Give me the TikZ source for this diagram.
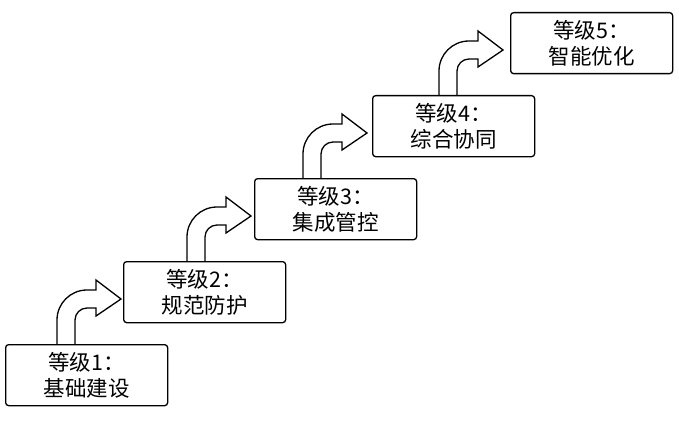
\documentclass[tikz,border=0pt]{standalone}
\usepackage{fontspec}
\setmainfont{Noto Sans CJK SC}
\usetikzlibrary{calc}
\tikzset{
  levelbox/.style={draw=black, line width=1.3pt, rounded corners=3pt, fill=white,
    minimum width=162pt, minimum height=61pt, anchor=north west, inner sep=0pt,
    align=center, font=\fontsize{21.5pt}{26pt}\selectfont},
  arrowshape/.style={draw=black, line width=1.3pt, fill=white, line join=miter},
  bentarr/.pic={
    \path[arrowshape] (0,0) -- (0,-24) .. controls (0,-40.6) and (13.4,-54) .. (30,-54)
      -- (39,-54) -- (39,-64) -- (64,-45) -- (39,-28) -- (39,-36) -- (30,-36)
      .. controls (23.4,-36) and (18,-30.6) .. (18,-24) -- (18,0);
  }
}
\begin{document}
\begin{tikzpicture}[x=1pt,y=-1pt]
\useasboundingbox (0,0) rectangle (679,425);
\coordinate (p1) at (5,344);
\coordinate (p2) at (123,261);
\coordinate (p3) at (254,178);
\coordinate (p4) at (372,95);
\coordinate (p5) at (510,12);
% arrows
\pic at ($(p1 -| p2)+(-66,0)$) {bentarr};
\pic at ($(p2 -| p3)+(-67,0)$) {bentarr};
\pic at ($(p3 -| p4)+(-69,0)$) {bentarr};
\pic at ($(p4 -| p5)+(-71,0)$) {bentarr};
% boxes
\node[levelbox] (b1) at (p1) {等级1：\\基础建设};
\node[levelbox] (b2) at (p2) {等级2：\\规范防护};
\node[levelbox] (b3) at (p3) {等级3：\\集成管控};
\node[levelbox] (b4) at (p4) {等级4：\\综合协同};
\node[levelbox] (b5) at (p5) {等级5：\\智能优化};
\end{tikzpicture}
\end{document}
